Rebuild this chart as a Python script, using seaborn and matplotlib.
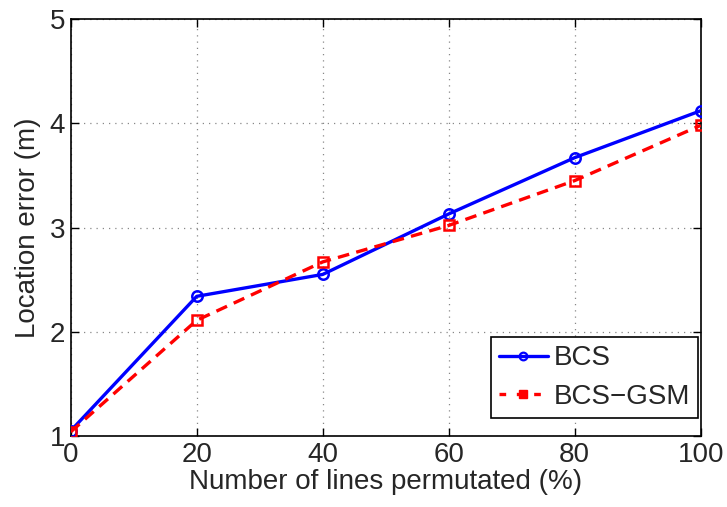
import matplotlib
matplotlib.use("Agg")
import matplotlib.pyplot as plt
from matplotlib.lines import Line2D
import seaborn as sns
import pandas as pd

# Percentage of lines permutated
permutated = [0, 20, 40, 60, 80, 100]
# Mean location error (m) for each method
bcs = [1.05, 2.34, 2.55, 3.13, 3.67, 4.12]
bcs_gsm = [1.04, 2.11, 2.67, 3.02, 3.45, 3.98]
methods = ["BCS", "BCS\u2212GSM"]
x_ticks = [0, 20, 40, 60, 80, 100]
y_ticks = [1, 2, 3, 4, 5]

df = pd.DataFrame({
    "permutated": permutated * 2,
    "error": bcs + bcs_gsm,
    "method": [methods[0]] * len(bcs) + [methods[1]] * len(bcs_gsm),
})

sns.set_theme(style="white")
plt.rcParams["font.family"] = ["Liberation Sans", "DejaVu Sans"]
plt.rcParams["font.size"] = 20

fig = plt.figure(figsize=(7.27, 5.07), dpi=100)
ax = fig.add_axes([0.0973, 0.14, 0.8665, 0.8225])

colors = {methods[0]: "#0000ff", methods[1]: "#ff0000"}
sns.lineplot(
    data=df, x="permutated", y="error", hue="method", style="method",
    palette=colors, markers={methods[0]: "o", methods[1]: "s"},
    dashes={methods[0]: "", methods[1]: (3.5, 2.2)},
    linewidth=2.4, markersize=7.5, markerfacecolor="none",
    markeredgewidth=1.8, ax=ax, legend=False, zorder=3,
)
for ln, m in zip(ax.get_lines(), methods):
    ln.set_markeredgecolor(colors[m])
    ln.set_markerfacecolor("none")

ax.set_xlim(0, 100)
ax.set_ylim(1, 5)
ax.set_xticks(x_ticks)
ax.set_yticks(y_ticks)
ax.tick_params(axis="both", which="major", direction="in", length=6,
               width=1.0, labelsize=20, top=True, right=True,
               bottom=True, left=True, color="black", pad=4)
ax.grid(True, linestyle=(0, (1, 4)), color="#888888", linewidth=0.9)
for s in ax.spines.values():
    s.set_visible(True)
    s.set_color("black")
    s.set_linewidth(1.2)

ax.set_xlabel("Number of lines permutated (%)", fontsize=20, labelpad=1)
ax.set_ylabel("Location error (m)", fontsize=20, labelpad=6)

handles = [
    Line2D([], [], color="#0000ff", linewidth=2.4, marker="o", markersize=5.5,
           markerfacecolor="none", markeredgecolor="#0000ff", markeredgewidth=1.6),
    Line2D([], [], color="#ff0000", linewidth=2.4, linestyle=(0, (2.0, 3.2)),
           marker="s", markersize=5.5, markerfacecolor="#ff0000",
           markeredgecolor="#ff0000"),
]
leg = ax.legend(handles, methods, loc="lower right", fontsize=20,
                frameon=True, fancybox=False, edgecolor="black",
                framealpha=1, borderpad=0.3, labelspacing=0.45,
                handlelength=1.75, handletextpad=0.22, borderaxespad=0,
                bbox_to_anchor=(0.9965, 0.043))
leg.get_frame().set_linewidth(1.2)

fig.savefig("out.png", dpi=100)
